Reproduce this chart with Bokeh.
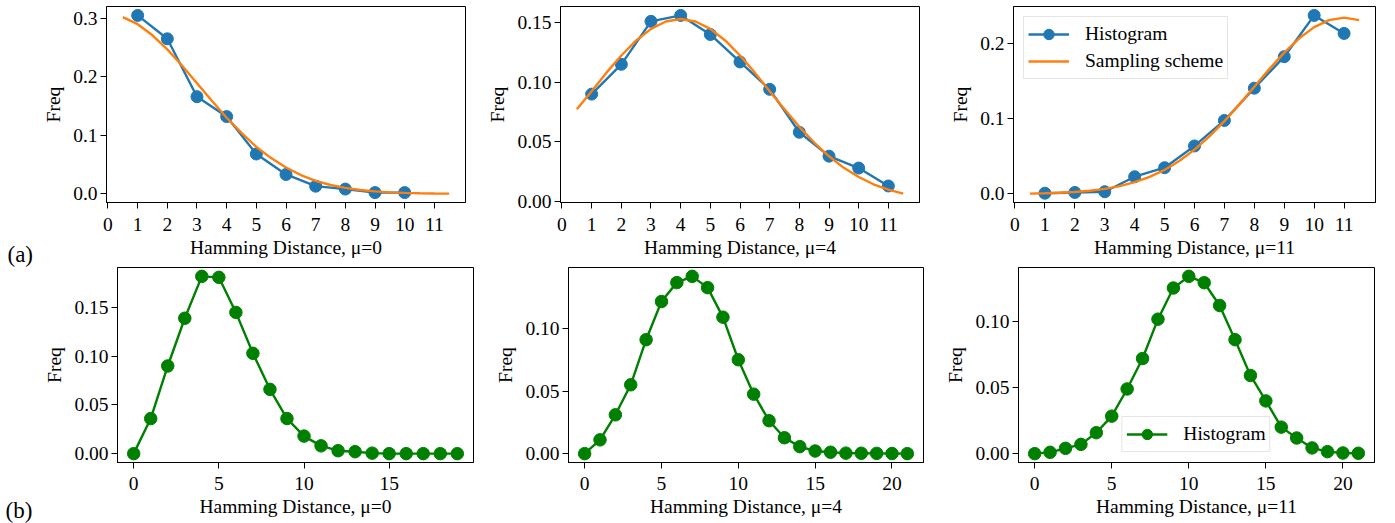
from bokeh.plotting import figure
from bokeh.models import Range1d, FixedTicker, NumeralTickFormatter, Legend, LegendItem, Label
from bokeh.layouts import column, row
from bokeh.embed import file_html
from bokeh.resources import INLINE

# ---------------- data ----------------
hist_x_mu0 = [1, 2, 3, 4, 5, 6, 7, 8, 9, 10]
hist_y_mu0 = [0.305, 0.265, 0.166, 0.132, 0.068, 0.033, 0.013, 0.008, 0.002, 0.002]
hist_x_mu4 = [1, 2, 3, 4, 5, 6, 7, 8, 9, 10, 11]
hist_y_mu4 = [0.090, 0.115, 0.151, 0.156, 0.140, 0.117, 0.094, 0.058, 0.038, 0.028, 0.013]
hist_x_mu11 = [1, 2, 3, 4, 5, 6, 7, 8, 9, 10, 11]
hist_y_mu11 = [0.001, 0.002, 0.003, 0.023, 0.035, 0.064, 0.098, 0.141, 0.183, 0.238, 0.214]

scheme_x = [0.5, 1.0, 1.5, 2.0, 2.5, 3.0, 3.5, 4.0, 4.5, 5.0, 5.5, 6.0,
            6.5, 7.0, 7.5, 8.0, 8.5, 9.0, 9.5, 10.0, 10.5, 11.0, 11.5]
scheme_y_mu0 = [0.302, 0.290, 0.271, 0.247, 0.219, 0.189, 0.159, 0.130, 0.104, 0.080, 0.061, 0.045,
                0.032, 0.022, 0.015, 0.010, 0.0064, 0.0040, 0.0024, 0.0015, 0.0008, 0.0005, 0.0003]
scheme_y_mu4 = [0.0773, 0.0925, 0.108, 0.1224, 0.135, 0.1447, 0.1509, 0.153, 0.1509, 0.1447, 0.135, 0.1224,
                0.108, 0.0925, 0.0773, 0.0626, 0.0494, 0.0379, 0.0282, 0.0205, 0.0144, 0.0099, 0.0066]
scheme_y_mu11 = [0.0005, 0.0009, 0.0016, 0.0027, 0.0043, 0.0068, 0.0105, 0.0157, 0.0228, 0.032, 0.0442, 0.0591,
                 0.0768, 0.0971, 0.1194, 0.143, 0.1664, 0.1884, 0.2075, 0.2224, 0.2318, 0.235, 0.2318]

b_x_mu0 = list(range(20))
b_y_mu0 = [0.0, 0.036, 0.090, 0.139, 0.182, 0.181, 0.145, 0.103, 0.066, 0.036,
           0.018, 0.008, 0.003, 0.002, 0.0005, 0.0, 0.0, 0.0, 0.0, 0.0]
b_x_mu4 = list(range(22))
b_y_mu4 = [0.0, 0.011, 0.031, 0.055, 0.091, 0.1215, 0.1366, 0.1416, 0.1326, 0.109, 0.075,
           0.0475, 0.0263, 0.0127, 0.0056, 0.0021, 0.0011, 0.0004, 0.0003, 0.0002, 0.0001, 0.0]
b_x_mu11 = list(range(22))
b_y_mu11 = [0.0, 0.001, 0.004, 0.007, 0.0158, 0.0283, 0.0488, 0.0718, 0.1015, 0.125, 0.1338,
            0.129, 0.1118, 0.086, 0.059, 0.0398, 0.020, 0.0118, 0.0043, 0.0015, 0.0005, 0.0003]

xticks_top = [0, 1, 2, 3, 4, 5, 6, 7, 8, 9, 10, 11]
xticks_b0 = [0, 5, 10, 15]
xticks_b = [0, 5, 10, 15, 20]
yticks_1 = [0.0, 0.1, 0.2, 0.3]
yticks_2 = [0.0, 0.05, 0.10, 0.15]
yticks_3 = [0.0, 0.1, 0.2]
yticks_4 = [0.0, 0.05, 0.10, 0.15]
yticks_5 = [0.0, 0.05, 0.10]
yticks_6 = [0.0, 0.05, 0.10]

xlabels = ["Hamming Distance, μ=0", "Hamming Distance, μ=4", "Hamming Distance, μ=11"]
panel_tags = ["(a)", "(b)"]

BLUE = "#1f77b4"
ORANGE = "#ff7f0e"
GREEN = "#008000"
FONT = "Liberation Serif"
FS = "19.5px"


def pad_range(vals, frac=0.05):
    lo, hi = min(vals), max(vals)
    d = (hi - lo) * frac
    return Range1d(lo - d, hi + d)


def make_fig(xr, yr, fw, fh, lb, rb, tb, bb, xticks, yticks, yfmt, xlabel, xstand):
    p = figure(frame_width=fw, frame_height=fh, x_range=xr, y_range=yr,
               output_backend="svg", toolbar_location=None,
               min_border_left=lb, min_border_right=rb,
               min_border_top=tb, min_border_bottom=bb,
               background_fill_color="white", border_fill_color="white")
    p.xgrid.visible = False
    p.ygrid.visible = False
    p.outline_line_color = "black"
    p.outline_line_alpha = 1.0
    p.outline_line_width = 1
    for ax in (p.xaxis[0], p.yaxis[0]):
        ax.axis_line_color = "black"
        ax.axis_line_width = 1
        ax.major_tick_line_color = "black"
        ax.major_tick_line_width = 1
        ax.major_tick_out = 6
        ax.major_tick_in = 0
        ax.minor_tick_line_color = None
        ax.major_label_text_font = FONT
        ax.major_label_text_font_size = FS
        ax.major_label_text_color = "black"
        ax.axis_label_text_font = FONT
        ax.axis_label_text_font_size = FS
        ax.axis_label_text_font_style = "normal"
        ax.axis_label_text_color = "black"
    p.xaxis[0].ticker = FixedTicker(ticks=xticks)
    p.yaxis[0].ticker = FixedTicker(ticks=yticks)
    p.yaxis[0].formatter = NumeralTickFormatter(format=yfmt)
    p.xaxis[0].axis_label = xlabel
    p.yaxis[0].axis_label = "Freq"
    p.xaxis[0].major_label_standoff = xstand
    p.xaxis[0].axis_label_standoff = 3
    p.yaxis[0].major_label_standoff = 3
    p.yaxis[0].axis_label_standoff = 6
    return p


TOP_FH = 196
BOT_FH = 195

# ---- top row ----
p1 = make_fig(pad_range(scheme_x), pad_range(hist_y_mu0 + scheme_y_mu0), 359, TOP_FH, 68, 10, 6, 63,
              xticks_top, yticks_1, "0.0", xlabels[0], 9)
p2 = make_fig(pad_range(scheme_x), pad_range(hist_y_mu4 + scheme_y_mu4), 359, TOP_FH, 85, 10, 6, 63,
              xticks_top, yticks_2, "0.00", xlabels[1], 9)
p3 = make_fig(pad_range(scheme_x), pad_range(hist_y_mu11 + scheme_y_mu11), 362, TOP_FH, 84, 10, 6, 63,
              xticks_top, yticks_3, "0.0", xlabels[2], 9)

tops = []
for p, hx, hy, sy in ((p1, hist_x_mu0, hist_y_mu0, scheme_y_mu0),
                      (p2, hist_x_mu4, hist_y_mu4, scheme_y_mu4),
                      (p3, hist_x_mu11, hist_y_mu11, scheme_y_mu11)):
    hl = p.line(hx, hy, line_color=BLUE, line_width=2.4)
    hs = p.scatter(hx, hy, size=12, fill_color=BLUE, line_color=BLUE)
    sl = p.line(scheme_x, sy, line_color=ORANGE, line_width=2.4)
    tops.append((hl, hs, sl))

hl, hs, sl = tops[2]
leg1 = Legend(items=[LegendItem(label="Histogram", renderers=[hl, hs]),
                     LegendItem(label="Sampling scheme", renderers=[sl])],
              location="top_left", margin=10, padding=4, spacing=1,
              glyph_width=41, glyph_height=26, label_height=26, label_standoff=16,
              label_text_font=FONT, label_text_font_size=FS, label_text_color="black",
              border_line_color="#cccccc", border_line_width=1,
              background_fill_color="white", background_fill_alpha=0.8)
p3.add_layout(leg1)

# ---- bottom row ----
p4 = make_fig(pad_range(b_x_mu0), pad_range(b_y_mu0), 356, BOT_FH, 79, 10, 2, 61,
              xticks_b0, yticks_4, "0.00", xlabels[0], 8)
p5 = make_fig(pad_range(b_x_mu4), pad_range(b_y_mu4), 355, BOT_FH, 85, 10, 2, 61,
              xticks_b, yticks_5, "0.00", xlabels[1], 8)
p6 = make_fig(pad_range(b_x_mu11), pad_range(b_y_mu11), 356, BOT_FH, 85, 11, 2, 61,
              xticks_b, yticks_6, "0.00", xlabels[2], 8)

bots = []
for p, bx, by in ((p4, b_x_mu0, b_y_mu0), (p5, b_x_mu4, b_y_mu4), (p6, b_x_mu11, b_y_mu11)):
    gl = p.line(bx, by, line_color=GREEN, line_width=2.4)
    gs = p.scatter(bx, by, size=12.5, fill_color=GREEN, line_color=GREEN)
    bots.append((gl, gs))

gl, gs = bots[2]
leg2 = Legend(items=[LegendItem(label="Histogram", renderers=[gl, gs])],
              location="bottom_center", margin=10, padding=4, spacing=1,
              glyph_width=41, glyph_height=26, label_height=26, label_standoff=16,
              label_text_font=FONT, label_text_font_size=FS, label_text_color="black",
              border_line_color="#cccccc", border_line_width=1,
              background_fill_color="white", background_fill_alpha=0.8)
p6.add_layout(leg2)

# ---- left strip holding the panel tags ----
strip = figure(frame_width=38, frame_height=523, x_range=Range1d(0, 1), y_range=Range1d(0, 1),
               x_axis_type=None, y_axis_type=None, output_backend="svg", toolbar_location=None,
               min_border=0, min_border_left=0, min_border_right=0, min_border_top=0, min_border_bottom=0,
               background_fill_color="white", border_fill_color="white")
strip.outline_line_color = None
strip.xgrid.visible = False
strip.ygrid.visible = False
strip.add_layout(Label(x=7, y=269, x_units="screen", y_units="screen", text=panel_tags[0],
                       text_font=FONT, text_font_size="23px", text_color="black",
                       text_baseline="alphabetic", text_align="left"))
strip.add_layout(Label(x=5, y=13, x_units="screen", y_units="screen", text=panel_tags[1],
                       text_font=FONT, text_font_size="23px", text_color="black",
                       text_baseline="alphabetic", text_align="left"))

layout = row(strip, column(row(p1, p2, p3), row(p4, p5, p6)))
open("out.html", "w").write(file_html(layout, INLINE))
